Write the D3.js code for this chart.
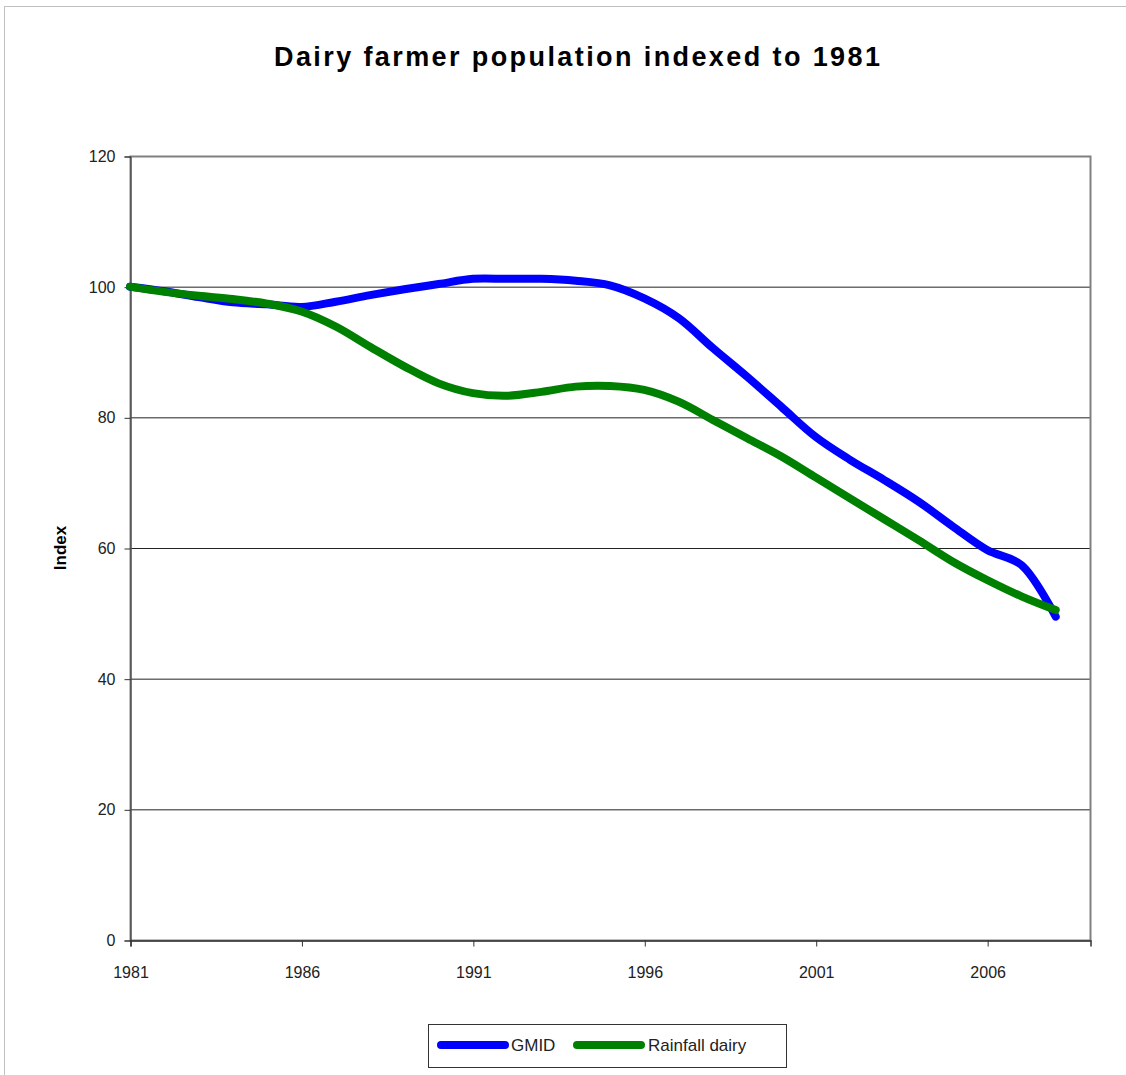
<!DOCTYPE html>
<html><head><meta charset="utf-8">
<script src="https://cdn.jsdelivr.net/npm/d3@7"></script>
<style>body{margin:0;background:#fff}svg{display:block}</style>
</head><body>
<script>
const years = d3.range(1981, 2009);
const gmid = [100,99.3,98.4,97.6,97.3,96.9,97.7,98.7,99.6,100.4,101.2,101.2,101.2,100.9,100.2,98.2,95.2,90.6,86.2,81.6,77.0,73.5,70.4,67.1,63.3,59.7,57.4,49.5];
const rainfall = [100,99.2,98.6,98.1,97.4,96.2,93.9,90.8,87.8,85.2,83.7,83.3,83.9,84.7,84.8,84.2,82.4,79.6,76.8,74.0,70.8,67.6,64.4,61.2,57.9,55.1,52.6,50.5];
const yTicks = [0,20,40,60,80,100,120];
const xTicks = [1981,1986,1991,1996,2001,2006];
const seriesNames = ["GMID","Rainfall dairy"];
const colors = ["#0000ff","#008000"];

const W=1126,H=1075;
const svg=d3.select("body").append("svg").attr("width",W).attr("height",H);
svg.append("rect").attr("x",4.5).attr("y",6.5).attr("width",1200).attr("height",1200).attr("fill","none").attr("stroke","#c0c0c0");

const L=130,R=1090,T=156,B=940;
const x=d3.scaleLinear().domain([1981,2009]).range([L,R]);
const y=d3.scaleLinear().domain([0,120]).range([B,T]);

// gridlines
svg.append("g").selectAll("line").data(yTicks.filter(d=>d>0&&d<120)).join("line")
 .attr("x1",L).attr("x2",R).attr("y1",d=>y(d)+0.5).attr("y2",d=>y(d)+0.5)
 .attr("stroke","#222").attr("stroke-width",1);
// plot border
svg.append("rect").attr("x",L+0.5).attr("y",T+0.5).attr("width",R-L).attr("height",B-T)
 .attr("fill","none").attr("stroke","#808080").attr("stroke-width",2);

const font="'Liberation Sans', Arial, sans-serif";
// y axis
const ya=svg.append("g").attr("transform",`translate(${L+0.5},0.5)`)
 .call(d3.axisLeft(y).tickValues(yTicks).tickSize(6).tickPadding(9));
ya.select(".domain").attr("stroke","#333");
ya.selectAll(".tick line").attr("stroke","#333");
ya.selectAll("text").attr("font-family",font).attr("font-size",16).attr("fill","#222");
// x axis
const xa=svg.append("g").attr("transform",`translate(0.5,${B+0.5})`)
 .call(d3.axisBottom(x).tickValues(xTicks).tickFormat(d3.format("d")).tickSize(6).tickPadding(0));
xa.select(".domain").attr("stroke","#333").attr("stroke-width",1.5);
xa.selectAll(".tick line").attr("stroke","#333");
xa.selectAll("text").attr("font-family",font).attr("font-size",16).attr("fill","#222")
 .attr("dy",null).attr("y",37);

// lines
const line=d3.line().x((d,i)=>x(years[i])).y(d=>y(d)).curve(d3.curveCatmullRom.alpha(0.5));
[gmid,rainfall].forEach((s,i)=>{
  svg.append("path").datum(s).attr("d",line).attr("fill","none")
   .attr("stroke",colors[i]).attr("stroke-width",8).attr("stroke-linecap","round").attr("stroke-linejoin","round");
});

// title
svg.append("text").attr("x",577).attr("y",66).attr("text-anchor","middle")
 .attr("font-family",font).attr("font-weight","bold").attr("font-size",27)
 .attr("textLength",606).attr("lengthAdjust","spacing")
 .text("Dairy farmer population indexed to 1981");
// y label
svg.append("text").attr("transform","translate(66,548) rotate(-90)").attr("text-anchor","middle")
 .attr("font-family",font).attr("font-weight","bold").attr("font-size",17).text("Index");

// legend
const lg=svg.append("g");
lg.append("rect").attr("x",428.5).attr("y",1024.5).attr("width",358).attr("height",43).attr("fill","#fff").attr("stroke","#333");
const lx=[437,573], tx=[511,648];
seriesNames.forEach((n,i)=>{
  lg.append("line").attr("x1",lx[i]+4).attr("x2",lx[i]+68).attr("y1",1045).attr("y2",1045)
   .attr("stroke",colors[i]).attr("stroke-width",8).attr("stroke-linecap","round");
  lg.append("text").attr("x",tx[i]).attr("y",1051).attr("font-family",font).attr("font-size",17).attr("fill","#222").text(n);
});
</script>
</body></html>
